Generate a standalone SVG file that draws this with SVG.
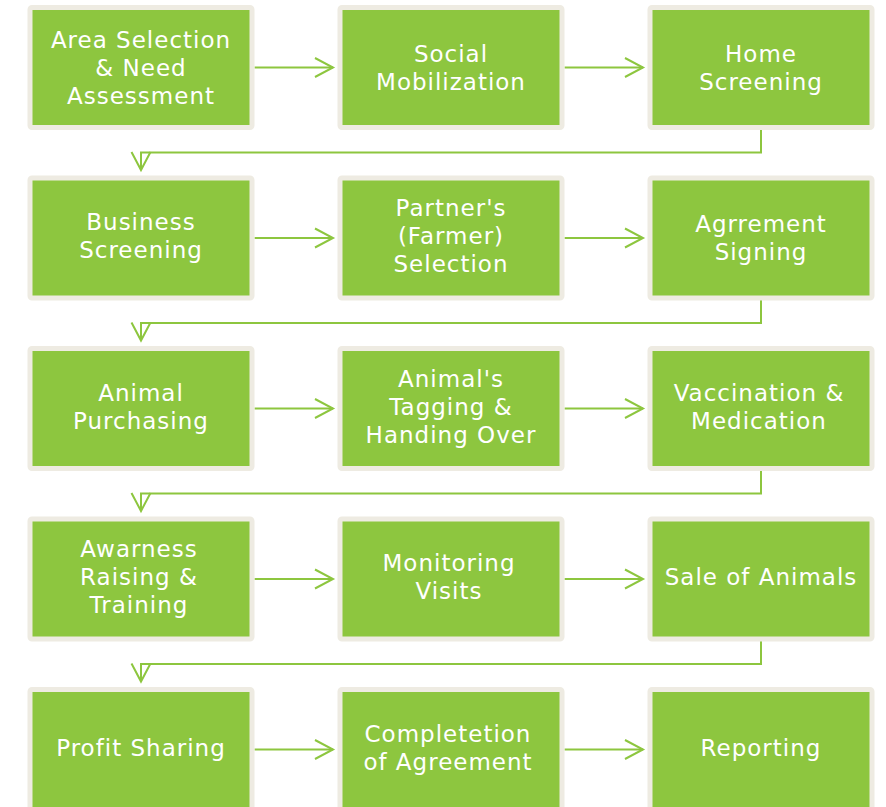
<svg xmlns="http://www.w3.org/2000/svg" width="886" height="807" viewBox="0 0 886 807">
<style>
.box{fill:#8DC63F;stroke:#EEEBE2;stroke-width:5}
.t{font-family:"DejaVu Sans","Liberation Sans",sans-serif;font-size:23px;letter-spacing:1px;fill:#FFFFFF;text-anchor:middle}
.c{fill:none;stroke:#8DC63F;stroke-width:2}
</style>
<defs>
<marker id="ah" markerUnits="userSpaceOnUse" markerWidth="24" markerHeight="24" refX="18" refY="10" orient="auto" viewBox="-2 -2 24 24">
<path d="M0,0.5 L18,10 L0,19.5" fill="none" stroke="#8DC63F" stroke-width="2"/>
</marker>
</defs>
<rect width="886" height="807" fill="#FFFFFF"/>
<g id="connectors">
<path class="c" d="M254.5,67.5 H333" marker-end="url(#ah)"/>
<path class="c" d="M564.5,67.5 H643" marker-end="url(#ah)"/>
<path class="c" d="M761,129.5 V152.5 H141 V170" marker-end="url(#ah)"/>
<path class="c" d="M254.5,238 H333" marker-end="url(#ah)"/>
<path class="c" d="M564.5,238 H643" marker-end="url(#ah)"/>
<path class="c" d="M761,300 V323 H141 V340.5" marker-end="url(#ah)"/>
<path class="c" d="M254.5,408.5 H333" marker-end="url(#ah)"/>
<path class="c" d="M564.5,408.5 H643" marker-end="url(#ah)"/>
<path class="c" d="M761,470.5 V493.5 H141 V511" marker-end="url(#ah)"/>
<path class="c" d="M254.5,579 H333" marker-end="url(#ah)"/>
<path class="c" d="M564.5,579 H643" marker-end="url(#ah)"/>
<path class="c" d="M761,641 V664 H141 V681.5" marker-end="url(#ah)"/>
<path class="c" d="M254.5,749.5 H333" marker-end="url(#ah)"/>
<path class="c" d="M564.5,749.5 H643" marker-end="url(#ah)"/>
</g>
<g id="n1"><rect class="box" x="30" y="7.5" width="222" height="120" rx="2"/><text class="t" x="141"><tspan x="141" y="47.5">Area Selection</tspan><tspan x="141" y="75.5">&amp; Need</tspan><tspan x="141" y="103.5">Assessment</tspan></text></g>
<g id="n2"><rect class="box" x="340" y="7.5" width="222" height="120" rx="2"/><text class="t"><tspan x="451" y="61.5">Social</tspan><tspan x="451" y="89.5">Mobilization</tspan></text></g>
<g id="n3"><rect class="box" x="650" y="7.5" width="222" height="120" rx="2"/><text class="t"><tspan x="761" y="61.5">Home</tspan><tspan x="761" y="89.5">Screening</tspan></text></g>
<g id="n4"><rect class="box" x="30" y="178" width="222" height="120" rx="2"/><text class="t"><tspan x="141" y="230">Business</tspan><tspan x="141" y="258">Screening</tspan></text></g>
<g id="n5"><rect class="box" x="340" y="178" width="222" height="120" rx="2"/><text class="t"><tspan x="451" y="216">Partner's</tspan><tspan x="451" y="244">(Farmer)</tspan><tspan x="451" y="272">Selection</tspan></text></g>
<g id="n6"><rect class="box" x="650" y="178" width="222" height="120" rx="2"/><text class="t"><tspan x="761" y="232">Agrrement</tspan><tspan x="761" y="260">Signing</tspan></text></g>
<g id="n7"><rect class="box" x="30" y="348.5" width="222" height="120" rx="2"/><text class="t"><tspan x="141" y="400.5">Animal</tspan><tspan x="141" y="428.5">Purchasing</tspan></text></g>
<g id="n8"><rect class="box" x="340" y="348.5" width="222" height="120" rx="2"/><text class="t"><tspan x="451" y="386.5">Animal's</tspan><tspan x="451" y="414.5">Tagging &amp;</tspan><tspan x="451" y="442.5">Handing Over</tspan></text></g>
<g id="n9"><rect class="box" x="650" y="348.5" width="222" height="120" rx="2"/><text class="t"><tspan x="759" y="400.5">Vaccination &amp;</tspan><tspan x="759" y="428.5">Medication</tspan></text></g>
<g id="n10"><rect class="box" x="30" y="519" width="222" height="120" rx="2"/><text class="t"><tspan x="139" y="557">Awarness</tspan><tspan x="139" y="585">Raising &amp;</tspan><tspan x="139" y="613">Training</tspan></text></g>
<g id="n11"><rect class="box" x="340" y="519" width="222" height="120" rx="2"/><text class="t"><tspan x="449" y="571">Monitoring</tspan><tspan x="449" y="599">Visits</tspan></text></g>
<g id="n12"><rect class="box" x="650" y="519" width="222" height="120" rx="2"/><text class="t"><tspan x="761" y="585">Sale of Animals</tspan></text></g>
<g id="n13"><rect class="box" x="30" y="689.5" width="222" height="120" rx="2"/><text class="t"><tspan x="141" y="755.5">Profit Sharing</tspan></text></g>
<g id="n14"><rect class="box" x="340" y="689.5" width="222" height="120" rx="2"/><text class="t"><tspan x="448" y="741.5">Completetion</tspan><tspan x="448" y="769.5">of Agreement</tspan></text></g>
<g id="n15"><rect class="box" x="650" y="689.5" width="222" height="120" rx="2"/><text class="t"><tspan x="761" y="755.5">Reporting</tspan></text></g>
</svg>
